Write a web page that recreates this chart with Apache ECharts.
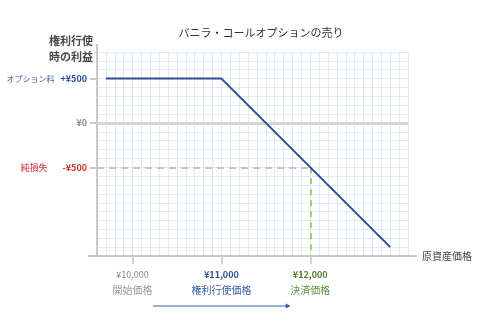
<!DOCTYPE html>
<html><head><meta charset="utf-8">
<script src="https://cdn.jsdelivr.net/npm/echarts@6/dist/echarts.min.js"></script>
<style>html,body{margin:0;padding:0;background:#fff}#c{width:487px;height:327px}</style>
</head><body><div id="c"></div>
<script>
// Data
const priceX = [9700, 11000, 12900];
const profitY = [500, 500, -1400];
const xTicks = [10000, 11000, 12000];
const xTickValues = ['¥10,000', '¥11,000', '¥12,000'];
const xTickNames = ['開始価格', '権利行使価格', '決済価格'];
const yTicks = [500, 0, -500];
const yTickValues = ['+¥500', '¥0', '-¥500'];
const yTickNames = ['オプション料', '', '純損失'];
const settlePrice = 12000;
const netLoss = -500;
const arrowRange = [10230, 11780];

const FONT = '"Noto Sans CJK JP", "Noto Sans", sans-serif';
const BLUE = '#2c4f96';
const gridColor = '#dfeaf8';
const xRange = [9600, 13100], yRange = [-1500, 800];

const chart = echarts.init(document.getElementById('c'), null, {renderer: 'canvas'});
const option = {
  animation: false,
  textStyle: {fontFamily: FONT},
  title: [
    {text: 'バニラ・コールオプションの売り', left: 256, top: 22, textAlign: 'center',
     textStyle: {fontSize: 11, fontWeight: 'normal', color: '#333', fontFamily: FONT}},
    {text: '権利行使\n時の利益', left: 88, top: 28, textAlign: 'right',
     textStyle: {fontSize: 11, fontWeight: 'bold', color: '#4a4a4a', lineHeight: 16, fontFamily: FONT}}
  ],
  grid: {left: 97, right: 79, top: 52, bottom: 71, containLabel: false},
  xAxis: [
    {type: 'value', min: xRange[0], max: xRange[1], interval: 100,
     axisLine: {show: false}, axisTick: {show: false}, axisLabel: {show: false},
     splitLine: {show: true, lineStyle: {color: gridColor, width: 1}}},
    {type: 'value', min: xRange[0], max: xRange[1], position: 'bottom',
     name: '原資産価格', nameLocation: 'end', nameGap: 14,
     nameTextStyle: {fontSize: 10, color: '#444', fontFamily: FONT},
     axisLine: {show: true, onZero: false, lineStyle: {color: '#c8c8c8', width: 2}},
     axisTick: {show: true, customValues: xTicks, length: 8, lineStyle: {color: '#c8c8c8', width: 1.5}},
     axisLabel: {show: true, customValues: xTicks, margin: 11, lineHeight: 15,
       formatter: function (v) {
         const i = xTicks.indexOf(v);
         if (i < 0) return '';
         return '{v' + i + '|' + xTickValues[i] + '}\n{n' + i + '|' + xTickNames[i] + '}';
       },
       rich: {
         v0: {fontSize: 9, color: '#888', lineHeight: 15, fontFamily: FONT},
         v1: {fontSize: 9, color: '#2c4f96', fontWeight: 'bold', lineHeight: 15, fontFamily: FONT},
         v2: {fontSize: 9, color: '#4f7f2e', fontWeight: 'bold', lineHeight: 15, fontFamily: FONT},
         n0: {fontSize: 10, color: '#999', lineHeight: 17, fontFamily: FONT},
         n1: {fontSize: 10, color: '#3a5ea8', lineHeight: 17, fontFamily: FONT},
         n2: {fontSize: 10, color: '#5f9440', lineHeight: 17, fontFamily: FONT}
       }},
     splitLine: {show: false}}
  ],
  yAxis: [
    {type: 'value', min: yRange[0], max: yRange[1], interval: 100,
     axisLine: {show: false}, axisTick: {show: false}, axisLabel: {show: false},
     splitLine: {show: true, lineStyle: {color: gridColor, width: 1}}},
    {type: 'value', min: yRange[0], max: yRange[1], position: 'left',
     axisLine: {show: true, onZero: false, lineStyle: {color: '#c8c8c8', width: 2}},
     axisTick: {show: true, customValues: yTicks, length: 7, lineStyle: {color: '#c8c8c8', width: 2}},
     axisLabel: {show: true, customValues: yTicks, margin: 10,
       formatter: function (v) {
         const i = yTicks.indexOf(v);
         if (i < 0) return '';
         return (yTickNames[i] ? '{n' + i + '|' + yTickNames[i] + '}' : '') + '{v' + i + '|' + yTickValues[i] + '}';
       },
       rich: {
         n0: {fontSize: 8, color: '#3a5ea8', padding: [0, 6, 0, 0], fontFamily: FONT},
         n2: {fontSize: 9, color: '#d0312d', padding: [0, 15, 0, 0], fontFamily: FONT},
         v0: {fontSize: 9, color: '#2c4f96', fontWeight: 'bold', fontFamily: FONT},
         v1: {fontSize: 9, color: '#888', fontWeight: 'bold', fontFamily: FONT},
         v2: {fontSize: 9, color: '#d0312d', fontWeight: 'bold', fontFamily: FONT}
       }},
     splitLine: {show: false}}
  ],
  series: [
    {type: 'line', xAxisIndex: 0, yAxisIndex: 0, symbol: 'none',
     data: priceX.map((x, i) => [x, profitY[i]]),
     lineStyle: {color: BLUE, width: 2}, z: 5,
     markLine: {silent: true, symbol: ['none', 'none'], label: {show: false}, animation: false,
       data: [
         [{coord: [xRange[0], 0], lineStyle: {color: '#d6d6d6', width: 3, type: 'solid'}}, {coord: [xRange[1], 0]}],
         [{coord: [xRange[0], netLoss], lineStyle: {color: '#c4c4c4', width: 2, type: [7, 5]}}, {coord: [settlePrice, netLoss]}],
         [{coord: [settlePrice, netLoss], lineStyle: {color: '#9ad26e', width: 2, type: [6, 5]}}, {coord: [settlePrice, yRange[0]]}]
       ]}}
  ]
};
chart.setOption(option);

// axis extensions + arrow decoration
const p00 = chart.convertToPixel({xAxisIndex: 0, yAxisIndex: 0}, [xRange[0], yRange[0]]);
const p11 = chart.convertToPixel({xAxisIndex: 0, yAxisIndex: 0}, [xRange[1], yRange[1]]);
const a0 = chart.convertToPixel({xAxisIndex: 0}, arrowRange[0]);
const a1 = chart.convertToPixel({xAxisIndex: 0}, arrowRange[1]);
const ay = 306;
chart.setOption({graphic: [
  {type: 'line', shape: {x1: p00[0] - 9, y1: p00[1], x2: p00[0], y2: p00[1]}, style: {stroke: '#c8c8c8', lineWidth: 2}},
  {type: 'line', shape: {x1: p11[0], y1: p00[1], x2: p11[0] + 9, y2: p00[1]}, style: {stroke: '#c8c8c8', lineWidth: 2}},
  {type: 'line', shape: {x1: p00[0], y1: p11[1] - 8, x2: p00[0], y2: p11[1]}, style: {stroke: '#c8c8c8', lineWidth: 2}},
  {type: 'line', shape: {x1: a0, y1: ay, x2: a1 - 3, y2: ay}, style: {stroke: '#3a5ea8', lineWidth: 1}},
  {type: 'polygon', shape: {points: [[a1, ay], [a1 - 5, ay - 2.5], [a1 - 5, ay + 2.5]]}, style: {fill: '#3a5ea8'}}
]});
</script></body></html>
